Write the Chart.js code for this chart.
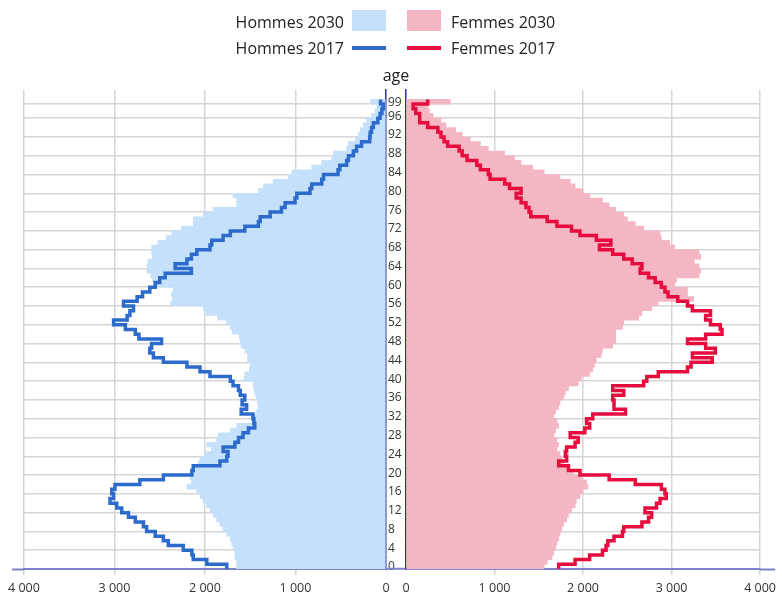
<!DOCTYPE html>
<html lang="fr">
<head>
<meta charset="utf-8">
<title>Pyramide des âges</title>
<script src="https://cdn.jsdelivr.net/npm/chart.js@4.4.1/dist/chart.umd.min.js"></script>
<style>
  body { margin: 0; background: #fff; }
  #wrap { position: relative; width: 782px; height: 596px; font-family: 'Open Sans', sans-serif; color: #222; }
  canvas { position: absolute; top: 0; }
  #hommes { left: 0; }
  #femmes { left: 386px; }
  .lbl { position: absolute; font-size: 16px; line-height: 20px; white-space: nowrap; }
  .right { right: 438px; text-align: right; }
  .key { position: absolute; }
</style>
</head>
<body>
<div id="wrap">
  <canvas id="hommes" width="406" height="596"></canvas>
  <canvas id="femmes" width="396" height="596"></canvas>
  <div class="lbl right" style="top:12px">Hommes 2030</div>
  <div class="key" id="k1" style="left:352px;top:10px;width:34px;height:21px"></div>
  <div class="key" id="k2" style="left:407px;top:10px;width:34px;height:21px"></div>
  <div class="lbl" style="left:451px;top:12px">Femmes 2030</div>
  <div class="lbl right" style="top:38px">Hommes 2017</div>
  <div class="key" id="k3" style="left:352px;top:46px;width:34px;height:4px"></div>
  <div class="key" id="k4" style="left:407px;top:46px;width:34px;height:4px"></div>
  <div class="lbl" style="left:451px;top:38px">Femmes 2017</div>
  <div class="lbl" style="left:366px;width:60px;text-align:center;top:65px">age</div>
</div>
<script>
// ages 0 .. 99 (99 = 99 ans et plus)
const ages = [0,1,2,3,4,5,6,7,8,9,10,11,12,13,14,15,16,17,18,19,20,21,22,23,24,25,26,27,28,29,
  30,31,32,33,34,35,36,37,38,39,40,41,42,43,44,45,46,47,48,49,50,51,52,53,54,55,56,57,58,59,
  60,61,62,63,64,65,66,67,68,69,70,71,72,73,74,75,76,77,78,79,80,81,82,83,84,85,86,87,88,89,
  90,91,92,93,94,95,96,97,98,99];

const hommes2030 = [1650,1650,1670,1670,1690,1705,1720,1760,1800,1835,1870,1910,1945,1980,2020,2055,2090,2200,2150,2165,
  2150,2110,2075,2055,2000,1930,1980,1870,1855,1720,1650,1480,1450,1430,1410,1420,1430,1450,1460,1470,
  1570,1560,1510,1500,1530,1530,1560,1600,1610,1620,1700,1720,1760,1860,1990,2020,2380,2360,2370,2350,
  2560,2580,2600,2640,2640,2630,2580,2590,2590,2520,2430,2370,2260,2130,2130,2020,1910,1650,1650,1690,
  1410,1355,1245,1080,1040,820,710,600,580,435,415,340,305,285,250,215,160,120,100,170];

const hommes2017 = [1760,1980,2130,2145,2240,2405,2460,2550,2645,2680,2770,2845,2920,2975,3050,3010,3030,2995,2720,2460,
  2145,2130,1835,1760,1745,1800,1670,1630,1580,1520,1450,1460,1470,1600,1540,1590,1560,1610,1630,1690,
  1720,1945,2055,2200,2460,2570,2610,2590,2480,2730,2770,2880,3010,2860,2830,2790,2900,2750,2690,2610,
  2550,2500,2440,2150,2330,2200,2150,2090,1945,1925,1800,1720,1560,1410,1390,1280,1155,1115,1005,985,
  840,820,710,690,530,510,435,415,360,325,270,180,175,160,140,90,65,45,30,60];

const femmes2030 = [1560,1595,1650,1670,1690,1705,1725,1740,1760,1780,1815,1835,1870,1910,1925,1965,2000,2055,2040,1980,
  1890,1835,1780,1760,1740,1705,1725,1705,1670,1690,1725,1705,1670,1690,1725,1740,1780,1800,1835,1945,
  1980,2075,2110,2130,2150,2205,2220,2335,2370,2370,2370,2445,2460,2630,2665,2775,2850,3250,3180,3180,
  3035,3055,3310,3330,3310,3255,3330,3310,3035,2980,2885,2870,2685,2590,2500,2460,2370,2295,2220,2075,
  2000,1910,1855,1740,1560,1430,1300,1225,1115,930,840,725,635,560,450,395,305,265,245,500];

const femmes2017 = [1725,1910,2075,2220,2260,2280,2350,2445,2460,2665,2740,2775,2700,2830,2870,2940,2925,2885,2590,2295,
  1965,1835,1725,1815,1800,1815,1910,1945,1855,2020,2075,2040,2110,2480,2350,2350,2335,2460,2335,2685,
  2720,2850,3180,3220,3460,3235,3495,3385,3180,3385,3570,3550,3440,3385,3440,3235,3180,3070,2960,2925,
  2885,2815,2740,2645,2665,2555,2460,2335,2185,2315,2150,1965,1870,1705,1595,1410,1390,1355,1300,1245,
  1300,1170,1115,950,930,840,800,690,635,600,470,430,395,360,245,155,155,110,80,245];

const seriesNames = ['Hommes 2030', 'Femmes 2030', 'Hommes 2017', 'Femmes 2017'];
const yTicks = [0,4,8,12,16,20,24,28,32,36,40,44,48,52,56,60,64,68,72,76,80,84,88,92,96,99];
const xTicks = [0, 1000, 2000, 3000, 4000];
const xTickLabels = ['0', '1 000', '2 000', '3 000', '4 000'];

const colBarH = '#c5e0fb', colBarF = '#f4b6c2';
const colLineH = '#2c6bcb', colLineF = '#e60c3e';
const grey = '#d6d6d6', axisBlue = '#2e2e9e', axisPurple = '#8181c9';

document.getElementById('k1').style.background = colBarH;
document.getElementById('k2').style.background = colBarF;
document.getElementById('k3').style.background = colLineH;
document.getElementById('k4').style.background = colLineF;

// one bar per age, centred in the band [age, age+1]
function barPoints(values) {
  return values.map((v, i) => ({x: v, y: ages[i] + 0.5}));
}
// outline of the bars: vertical along each band, horizontal between bands
function stepPoints(values) {
  const pts = [];
  values.forEach((v, i) => {
    pts.push({x: v, y: ages[i]});
    pts.push({x: v, y: ages[i] + 1});
  });
  return pts;
}

const tickFont = {family: "'Open Sans', sans-serif", size: 12.5};
const noLine = 'rgba(0,0,0,0)';

function xAxis(reverse) {
  return {
    type: 'linear', reverse: reverse, min: 0, max: 4000, offset: false,
    afterBuildTicks: s => { s.ticks = xTicks.map(v => ({value: v})); },
    afterFit: s => { s.height = 27; },
    ticks: {
      callback: v => xTickLabels[xTicks.indexOf(v)],
      padding: 6, maxRotation: 0, autoSkip: false, font: tickFont, color: '#333'
    },
    grid: {
      offset: false,
      color: c => (c.tick && c.tick.value === 0) ? noLine : grey,
      lineWidth: 1.5, drawTicks: true, tickLength: 6
    },
    border: {color: axisPurple, width: 2}
  };
}

// small axis whose only tick mark prolongs the bottom line outside the plot
function edgeAxis(pos, w) {
  return {
    type: 'linear', position: pos, min: 0, max: 102, offset: false,
    afterBuildTicks: s => { s.ticks = [{value: 0}]; },
    afterFit: s => { s.width = w; },
    ticks: {display: false},
    grid: {offset: false, drawOnChartArea: false, drawTicks: true, tickLength: w, tickColor: axisPurple, tickWidth: 2},
    border: {display: false}
  };
}

function yGrid(extra) {
  return Object.assign({
    offset: false,
    color: c => (c.tick && c.tick.value === 0) ? noLine : grey,
    lineWidth: 1.5
  }, extra);
}

const common = {
  indexAxis: 'y',
  responsive: false,
  animation: false,
  events: [],
  plugins: {legend: {display: false}, tooltip: {enabled: false}}
};

new Chart(document.getElementById('hommes'), {
  type: 'bar',
  data: {
    datasets: [
      {type: 'line', label: seriesNames[2], data: stepPoints(hommes2017), borderColor: colLineH,
       borderWidth: 3.5, pointRadius: 0, tension: 0, borderJoinStyle: 'miter', order: 0},
      {type: 'bar', label: seriesNames[0], data: barPoints(hommes2030), backgroundColor: colBarH,
       borderWidth: 0, categoryPercentage: 1, barPercentage: 1, order: 1}
    ]
  },
  options: Object.assign({}, common, {
    layout: {padding: {left: 12, top: 90, right: 0, bottom: 0}},
    scales: {
      x: xAxis(true),
      y: {
        type: 'linear', position: 'right', min: 0, max: 102, offset: false,
        afterBuildTicks: s => { s.ticks = yTicks.map(v => ({value: v})); },
        afterFit: s => { s.width = 20; },
        ticks: {callback: v => String(v), autoSkip: false, padding: 2, labelOffset: -2,
                font: {family: "'Open Sans', sans-serif", size: 12}, color: '#333'},
        grid: yGrid({drawTicks: false}),
        border: {color: axisBlue, width: 1.5}
      },
      yEdge: edgeAxis('left', 12)
    }
  })
});

new Chart(document.getElementById('femmes'), {
  type: 'bar',
  data: {
    datasets: [
      {type: 'line', label: seriesNames[3], data: stepPoints(femmes2017), borderColor: colLineF,
       borderWidth: 3.5, pointRadius: 0, tension: 0, borderJoinStyle: 'miter', order: 0},
      {type: 'bar', label: seriesNames[1], data: barPoints(femmes2030), backgroundColor: colBarF,
       borderWidth: 0, categoryPercentage: 1, barPercentage: 1, order: 1}
    ]
  },
  options: Object.assign({}, common, {
    layout: {padding: {left: 0, top: 90, right: 0, bottom: 0}},
    scales: {
      x: xAxis(false),
      y: {
        type: 'linear', position: 'left', min: 0, max: 102, offset: false,
        afterBuildTicks: s => { s.ticks = yTicks.map(v => ({value: v})); },
        afterFit: s => { s.width = 20; },
        ticks: {display: false},
        grid: yGrid({drawTicks: true, tickLength: 20, tickWidth: 2,
                     tickColor: c => (c.tick && c.tick.value === 0) ? axisPurple : noLine}),
        border: {color: axisBlue, width: 1.5}
      },
      yEdge: edgeAxis('right', 15)
    }
  })
});
</script>
</body>
</html>
